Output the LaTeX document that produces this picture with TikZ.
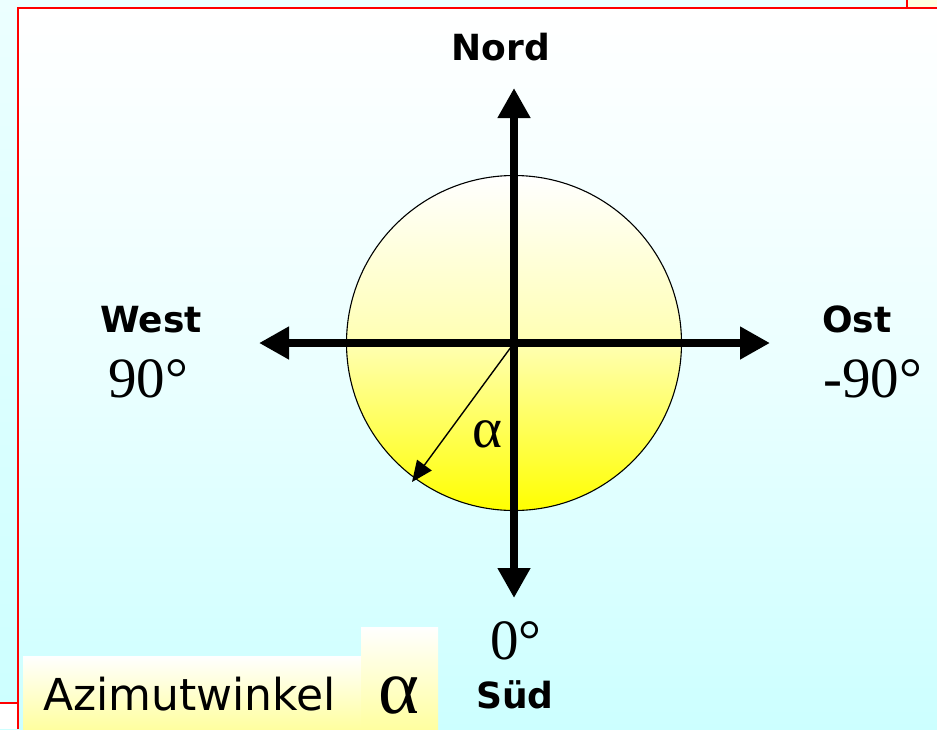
\documentclass[tikz,border=0pt]{standalone}
\usepackage{fontspec}
\setmainfont{Liberation Serif}
\newfontfamily\labfont{DejaVu Sans}
\usetikzlibrary{arrows.meta}
\definecolor{cyanA}{RGB}{236,255,255}
\definecolor{cyanB}{RGB}{204,255,255}
\definecolor{paleY}{RGB}{255,255,160}
\definecolor{creamY}{RGB}{255,255,224}
\definecolor{frameRed}{RGB}{255,0,0}
\tikzset{
  compass/.style={font=\labfont\bfseries\fontsize{36}{40}\selectfont, inner sep=0pt},
  degree/.style={font=\fontsize{57}{60}\selectfont, inner sep=0pt},
  axis/.style={line width=7.5pt, {Triangle[length=30pt,width=31pt]}-{Triangle[length=30pt,width=31pt]}},
  smallarrow/.style={line width=1.4pt, -{Triangle[length=21pt,width=18pt]}},
  boxfill/.style={top color=white, bottom color=paleY, draw=none},
  redline/.style={frameRed, line width=2.2pt},
}
\begin{document}
\begin{tikzpicture}[x=1pt,y=-1pt]
\useasboundingbox (0,0) rectangle (937,729);
% outer background
\shade[top color=cyanA, bottom color=cyanB] (0,0) rectangle (937,729);
\fill[creamY] (907,0) rectangle (937,8);
\fill[white] (0,703) rectangle (18,729);
\draw[redline] (0,703) -- (18,703);
\draw[redline] (907,0) -- (907,8);
% frame interior
\shade[top color=white, bottom color=cyanB, middle color={cyanB!40!white}] (18,8) rectangle (937,729);
\draw[redline] (18,729) -- (18,8) -- (937,8);
% bottom boxes
\shade[boxfill] (23,656) rectangle (361,729);
\shade[boxfill] (361,627) rectangle (438,729);
% circle
\coordinate (C) at (514,343);
\node (circ) [circle, minimum size=335pt, inner sep=0pt, draw=black, line width=1.1pt,
  top color=white, bottom color=yellow, middle color={yellow!30!white}] at (C) {};
% axes
\coordinate (N) at (514,88);
\coordinate (S) at (514,598);
\coordinate (W) at (259,343);
\coordinate (E) at (770,343);
\draw[axis] (W) -- (E);
\draw[axis] (S) -- (N);
% azimuth arrow
\coordinate (A) at (412,482);
\draw[smallarrow] (C) -- (A);
% labels
\node (nord) [compass, anchor=base] at (501,60) {Nord};
\node (west) [compass, anchor=base west] at (100,332) {West};
\node (ost)  [compass, anchor=base west] at (822,332) {Ost};
\node (sued) [compass, anchor=base] at (515,708) {Süd};
\node (w90) [degree, anchor=base west] at (108,397) {90°};
\node (e90) [degree, anchor=base west] at (823,397) {-90°};
\node (s0)  [degree, anchor=base west] at (490,659) {0°};
\node (alpha) [degree, anchor=base west] at (472,447) {α};
\node (azi) [font=\labfont\fontsize{44}{48}\selectfont, inner sep=0pt, anchor=base west] at (43,710) {Azimutwinkel};
\node (azialpha) [font=\fontsize{78}{80}\selectfont, inner sep=0pt, anchor=base west] at (378,713) {α};
\end{tikzpicture}
\end{document}
